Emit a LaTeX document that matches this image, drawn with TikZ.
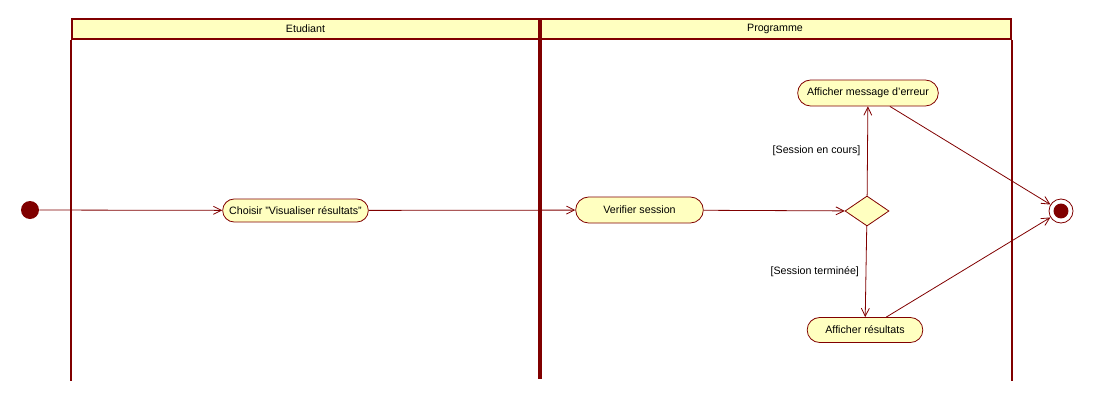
\documentclass[tikz,border=0pt]{standalone}
\usepackage{fontspec}
\setmainfont{Liberation Sans}
\usetikzlibrary{arrows.meta,positioning,shapes.geometric,shapes.misc}
\definecolor{umlline}{HTML}{800000}
\definecolor{umlfill}{HTML}{FFFFC0}

\tikzset{
  action/.style={rounded rectangle,draw=umlline,fill=umlfill,line width=0.6pt,
    inner sep=2pt,font=\fontsize{8}{9.5}\selectfont},
  lanehead/.style={draw=umlline,fill=umlfill,line width=1.5pt,inner sep=0pt,
    minimum height=15pt,font=\fontsize{8}{9.5}\selectfont},
  laneline/.style={umlline,line width=1.5pt},
  flow/.style={umlline,line width=0.6pt,-{Straight Barb[length=6pt,width=6pt]}},
  guard/.style={text=black,font=\fontsize{8}{9.5}\selectfont,inner sep=5pt}
}

\begin{document}
\begin{tikzpicture}[x=0.75pt,y=-0.75pt]
  \useasboundingbox (0,0) rectangle (1093,400);
  % couloirs
  \node[lanehead,minimum width=350.25pt] (etudiant) at (305.5,29) {Etudiant};
  \node[lanehead,minimum width=354pt] (programme) at (775,29) {Programme};
  \draw[laneline] (etudiant.south west) -- ++(0,341);
  \draw[laneline,line width=2.6pt] (etudiant.north east) -- ++(0,361);
  \draw[laneline] (programme.south east) -- ++(0,341);
  % noeuds
  \node[circle,fill=umlline,inner sep=0pt,minimum size=13.5pt] (start) at (30,210) {};
  \node[action,minimum width=113.25pt,minimum height=17.25pt] (choisir) at (295.5,210.5)
        {Choisir "Visualiser résultats"};
  \node[action,minimum width=99.75pt,minimum height=19.5pt] (verifier) at (639.5,210)
        {Verifier session};
  \node[diamond,draw=umlline,fill=umlfill,line width=0.6pt,inner sep=0pt,
        minimum width=33pt,minimum height=22.5pt] (decision) at (867,211) {};
  \node[action,minimum width=109.5pt,minimum height=19.5pt] (erreur) at (868,93)
        {Afficher message d'erreur};
  \node[action,minimum width=90.75pt,minimum height=18.75pt] (resultats) at (865,330)
        {Afficher résultats};
  \node[circle,draw=umlline,fill=white,line width=0.6pt,inner sep=0pt,minimum size=18pt,
        path picture={\fill[umlline] (path picture bounding box.center) circle (5.6pt);}]
        (fin) at (1061,211) {};
  % transitions
  \draw[flow] (start) -- (choisir);
  \draw[flow] (choisir) -- (verifier);
  \draw[flow] (verifier) -- (decision);
  \draw[flow] (decision) -- node[guard,left] {[Session en cours]} (erreur);
  \draw[flow] (decision) -- node[guard,left] {[Session terminée]} (resultats);
  \draw[flow] (erreur) -- (fin);
  \draw[flow] (resultats) -- (fin);
\end{tikzpicture}
\end{document}
